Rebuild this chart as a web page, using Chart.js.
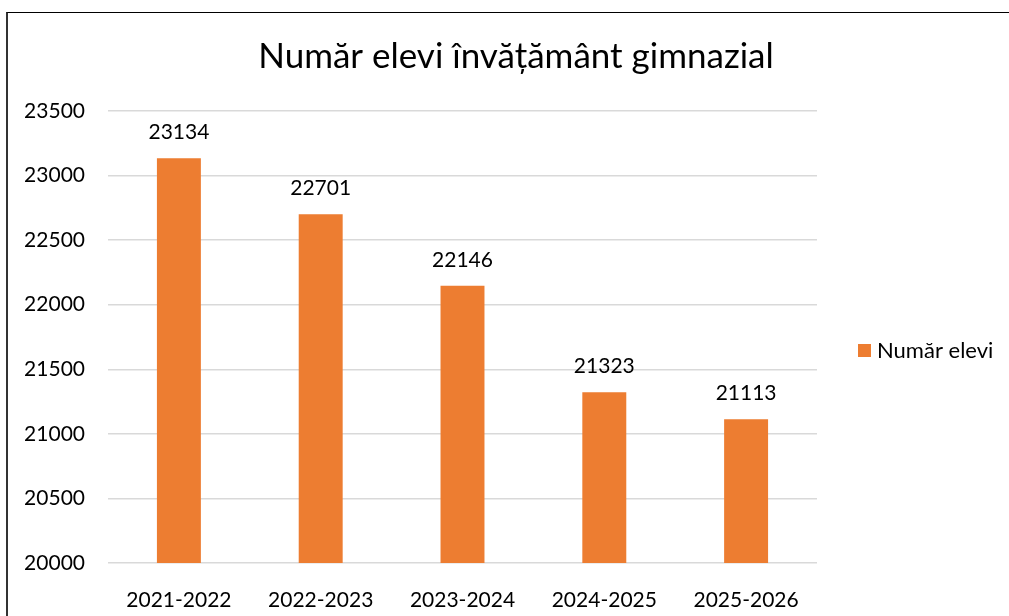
<!DOCTYPE html>
<html lang="ro">
<head>
  <meta charset="UTF-8">
  <title>Număr elevi învățământ gimnazial</title>
  <style>
    html, body {
      margin: 0;
      padding: 0;
      background: #fff;
    }
    .frame {
      position: absolute;
      left: 6px;
      top: 12px;
      width: 1003px;
      height: 604px;
      border-left: 2px solid #333;
      border-top: 1px solid #000;
      box-sizing: border-box;
    }
    #chart {
      position: absolute;
      left: 0;
      top: 0;
    }
  </style>
</head>
<body>
  <div class="frame"></div>
  <canvas id="chart" width="1009" height="616"></canvas>

  <script src="https://cdn.jsdelivr.net/npm/chart.js@4.4.1/dist/chart.umd.min.js"></script>
  <script>
    const TITLE = 'Număr elevi învățământ gimnazial';
    const SERIES_LABEL = 'Număr elevi';
    const YEARS = ['2021-2022', '2022-2023', '2023-2024', '2024-2025', '2025-2026'];
    const STUDENTS = [23134, 22701, 22146, 21323, 21113];
    const Y_MIN = 20000;
    const Y_MAX = 23500;
    const Y_STEP = 500;

    const BAR_COLOR = '#ED7D31';
    const FONT = 'Lato, "Open Sans", sans-serif';

    // titlu, legenda si etichetele de valori, desenate ca in Excel
    const excelLook = {
      id: 'excelLook',
      afterDatasetsDraw(chart) {
        const ctx = chart.ctx;
        const meta = chart.getDatasetMeta(0);
        ctx.save();
        ctx.fillStyle = '#000';
        ctx.font = '21px ' + FONT;
        ctx.textAlign = 'center';
        ctx.textBaseline = 'alphabetic';
        meta.data.forEach((bar, i) => {
          ctx.fillText(String(chart.data.datasets[0].data[i]), bar.x, bar.y - 19);
        });

        ctx.font = '35px ' + FONT;
        ctx.fillText(TITLE, 516, 68);

        ctx.fillStyle = BAR_COLOR;
        ctx.fillRect(858, 344, 13, 13);
        ctx.fillStyle = '#000';
        ctx.textAlign = 'left';
        ctx.textBaseline = 'middle';
        ctx.font = '22px ' + FONT;
        ctx.fillText(SERIES_LABEL, 877, 351);
        ctx.restore();
      }
    };

    new Chart(document.getElementById('chart'), {
      type: 'bar',
      data: {
        labels: YEARS,
        datasets: [{
          label: SERIES_LABEL,
          data: STUDENTS,
          backgroundColor: BAR_COLOR,
          barPercentage: 0.31,
          categoryPercentage: 1.0
        }]
      },
      plugins: [excelLook],
      options: {
        responsive: false,
        devicePixelRatio: 1,
        animation: false,
        layout: {
          padding: { left: 0, right: 192, top: 111, bottom: 0 }
        },
        plugins: {
          legend: { display: false },
          title: { display: false },
          tooltip: { enabled: false }
        },
        scales: {
          x: {
            grid: { display: false },
            border: { display: false },
            ticks: {
              color: '#000',
              font: { family: FONT, size: 21 },
              padding: 17,
              maxRotation: 0
            },
            afterFit(scale) { scale.height = 53; }
          },
          y: {
            min: Y_MIN,
            max: Y_MAX,
            grid: { color: '#d9d9d9', lineWidth: 1.5, drawTicks: false },
            border: { display: false },
            ticks: {
              stepSize: Y_STEP,
              color: '#000',
              font: { family: FONT, size: 21 },
              padding: 23,
              callback: (v) => String(v)
            },
            afterFit(scale) { scale.width = 108; }
          }
        }
      }
    });
  </script>
</body>
</html>
